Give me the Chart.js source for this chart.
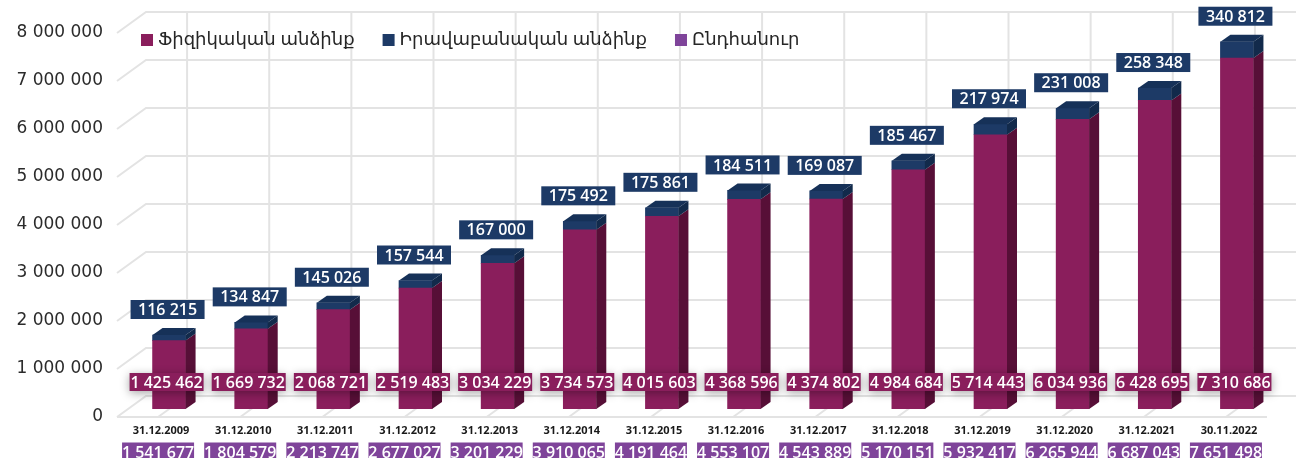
<!DOCTYPE html>
<html>
<head>
<meta charset="utf-8">
<script src="https://cdn.jsdelivr.net/npm/chart.js@4.4.1/dist/chart.umd.min.js"></script>
<style>
    html, body { margin: 0; padding: 0; background: #fff; }
    #wrap { width: 1300px; height: 458px; }
</style>
</head>
<body>
<div id="wrap"><canvas id="chart" width="1300" height="458"></canvas></div>
<script>
const categories = ['31.12.2009', '31.12.2010', '31.12.2011', '31.12.2012', '31.12.2013', '31.12.2014', '31.12.2015',
    '31.12.2016', '31.12.2017', '31.12.2018', '31.12.2019', '31.12.2020', '31.12.2021', '30.11.2022'];
const physical = [1425462, 1669732, 2068721, 2519483, 3034229, 3734573, 4015603, 4368596, 4374802, 4984684, 5714443, 6034936, 6428695, 7310686];
const legal = [116215, 134847, 145026, 157544, 167000, 175492, 175861, 184511, 169087, 185467, 217974, 231008, 258348, 340812];
const totals = [1541677, 1804579, 2213747, 2677027, 3201229, 3910065, 4191464, 4553107, 4543889, 5170151, 5932417, 6265944, 6687043, 7651498];
const seriesNames = ['Ֆիզիկական անձինք', 'Իրավաբանական անձինք', 'Ընդհանուր'];
const yTicks = [0, 1000000, 2000000, 3000000, 4000000, 5000000, 6000000, 7000000, 8000000];

const colors = {
    physical: '#8a1e5c', physicalSide: '#570f37',
    legal: '#1d3a66', legalSide: '#122a4b', legalTop: '#163158',
    total: '#7f449a', grid: '#e3e3e3'
};

// 3d offsets
const DX = 10, DY = 7;
const BACK_X = 18, BACK_Y = 13;
const FRONT_X = -11, FRONT_Y = 8;

const numFont = '600 16px "Open Sans", "DejaVu Sans", sans-serif';

function fmt(v) {
    return String(v).replace(/\B(?=(\d{3})+(?!\d))/g, ' ');
}

function poly(ctx, pts, fill) {
    ctx.beginPath();
    ctx.moveTo(pts[0][0], pts[0][1]);
    for (let i = 1; i < pts.length; i++) ctx.lineTo(pts[i][0], pts[i][1]);
    ctx.closePath();
    ctx.fillStyle = fill;
    ctx.fill();
}

function labelBox(ctx, text, cx, cy, w, h, bg, shadow) {
    ctx.save();
    if (shadow) {
        ctx.shadowColor = 'rgba(0,0,0,0.35)';
        ctx.shadowBlur = 10;
        ctx.shadowOffsetY = 2;
    }
    ctx.fillStyle = bg;
    ctx.fillRect(cx - w / 2, cy - h / 2, w, h);
    ctx.restore();
    ctx.fillStyle = '#fff';
    ctx.font = numFont;
    ctx.textAlign = 'center';
    ctx.textBaseline = 'middle';
    ctx.fillText(text, cx, cy + 1);
}

// back wall, floor and left edge grid
const gridPlugin = {
    id: 'grid3d',
    beforeDatasetsDraw(chart) {
        const {ctx, chartArea: a, scales: {x, y}} = chart;
        ctx.save();
        ctx.strokeStyle = colors.grid;
        ctx.lineWidth = 2;
        const yTop = y.getPixelForValue(yTicks[yTicks.length - 1]);
        const y0 = y.getPixelForValue(0);
        categories.forEach((c, i) => {
            const px = x.getPixelForValue(i);
            ctx.beginPath();
            ctx.moveTo(px + BACK_X, y0 - BACK_Y);
            ctx.lineTo(px + BACK_X, yTop - BACK_Y);
            ctx.stroke();
            ctx.beginPath();
            ctx.moveTo(px + FRONT_X, y0 + FRONT_Y);
            ctx.lineTo(px + BACK_X, y0 - BACK_Y);
            ctx.stroke();
        });
        yTicks.forEach(v => {
            const py = y.getPixelForValue(v);
            ctx.beginPath();
            ctx.moveTo(a.left + FRONT_X, py + FRONT_Y);
            ctx.lineTo(a.left + BACK_X, py - BACK_Y);
            ctx.lineTo(a.right + BACK_X, py - BACK_Y);
            ctx.stroke();
        });
        ctx.beginPath();
        ctx.moveTo(a.left + FRONT_X, y0 + FRONT_Y);
        ctx.lineTo(a.right + FRONT_X, y0 + FRONT_Y);
        ctx.stroke();
        ctx.restore();
    }
};

// side and top faces of the bars
const depthPlugin = {
    id: 'depth3d',
    afterDatasetsDraw(chart) {
        const ctx = chart.ctx;
        const metaP = chart.getDatasetMeta(0);
        const metaL = chart.getDatasetMeta(1);
        ctx.save();
        metaP.data.forEach(bar => {
            const p = bar.getProps(['x', 'y', 'base', 'width'], true);
            const r = p.x + p.width / 2;
            poly(ctx, [[r, p.y], [r + DX, p.y - DY], [r + DX, p.base - DY], [r, p.base]], colors.physicalSide);
        });
        metaL.data.forEach(bar => {
            const p = bar.getProps(['x', 'y', 'base', 'width'], true);
            const l = p.x - p.width / 2, r = p.x + p.width / 2;
            poly(ctx, [[r, p.y], [r + DX, p.y - DY], [r + DX, p.base - DY], [r, p.base]], colors.legalSide);
            poly(ctx, [[l, p.y], [l + DX, p.y - DY], [r + DX, p.y - DY], [r, p.y]], colors.legalTop);
        });
        ctx.restore();
    }
};

// value boxes and legend
const labelPlugin = {
    id: 'labels3d',
    afterDraw(chart) {
        const {ctx, chartArea: a, scales: {y}} = chart;
        const metaP = chart.getDatasetMeta(0);
        const metaL = chart.getDatasetMeta(1);
        const y0 = y.getPixelForValue(0);
        ctx.save();
        metaP.data.forEach((bar, i) => {
            labelBox(ctx, fmt(physical[i]), bar.x - 2.5, y0 - 27, 74, 18, colors.physical, true);
        });
        metaL.data.forEach((bar, i) => {
            labelBox(ctx, fmt(legal[i]), bar.x - 1.5, bar.y - DY - 9 - 9.5, 74, 19, colors.legal, false);
            labelBox(ctx, fmt(totals[i]), bar.x + FRONT_X, y0 + 43, 72, 19, colors.total, false);
        });

        // legend
        ctx.font = '18px "Noto Sans", "DejaVu Sans", sans-serif';
        ctx.textAlign = 'left';
        ctx.textBaseline = 'middle';
        const legendColors = [colors.physical, colors.legal, colors.total];
        let lx = a.left + 13;
        const ly = 40;
        seriesNames.forEach((name, i) => {
            ctx.fillStyle = legendColors[i];
            ctx.fillRect(lx, ly - 6, 12, 12);
            ctx.fillStyle = '#262626';
            ctx.fillText(name, lx + 17, ly);
            lx += 17 + ctx.measureText(name).width + 28;
        });
        ctx.restore();
    }
};

const ctx = document.getElementById('chart').getContext('2d');
const chart = new Chart(ctx, {
    type: 'bar',
    data: {
        labels: categories,
        datasets: [
            { label: seriesNames[0], data: physical, backgroundColor: colors.physical, stack: 'main', barThickness: 33 },
            { label: seriesNames[1], data: legal, backgroundColor: colors.legal, stack: 'main', barThickness: 33 },
            { type: 'line', label: seriesNames[2], data: totals, backgroundColor: colors.total, borderColor: colors.total,
              showLine: false, pointRadius: 0, pointHoverRadius: 0, stack: 'total' }
        ]
    },
    options: {
        responsive: false,
        animation: false,
        layout: { padding: { top: 25, right: 22, left: 0, bottom: 0 } },
        plugins: {
            legend: { display: false },
            tooltip: { enabled: false }
        },
        scales: {
            x: {
                stacked: true,
                grid: { display: false, drawTicks: false },
                border: { display: false },
                ticks: {
                    font: { family: '"Open Sans", "DejaVu Sans", sans-serif', size: 11, weight: 'bold' },
                    color: '#1a1a1a',
                    padding: 15,
                    labelOffset: -8,
                    maxRotation: 0,
                    autoSkip: false
                },
                afterFit(scale) {
                    scale.height = 49;
                    scale.paddingLeft = 0;
                    scale.paddingRight = 0;
                }
            },
            y: {
                stacked: true,
                min: 0,
                max: 8000000,
                grid: { display: false, drawTicks: false },
                border: { display: false },
                ticks: {
                    stepSize: 1000000,
                    font: { family: '"DejaVu Sans", sans-serif', size: 17 },
                    color: '#2b2b2b',
                    padding: 25,
                    labelOffset: 8,
                    callback: v => fmt(v)
                },
                afterFit(scale) {
                    scale.width = 128;
                    scale.paddingTop = 0;
                    scale.paddingBottom = 0;
                }
            }
        }
    },
    plugins: [gridPlugin, depthPlugin, labelPlugin]
});
</script>
</body>
</html>
